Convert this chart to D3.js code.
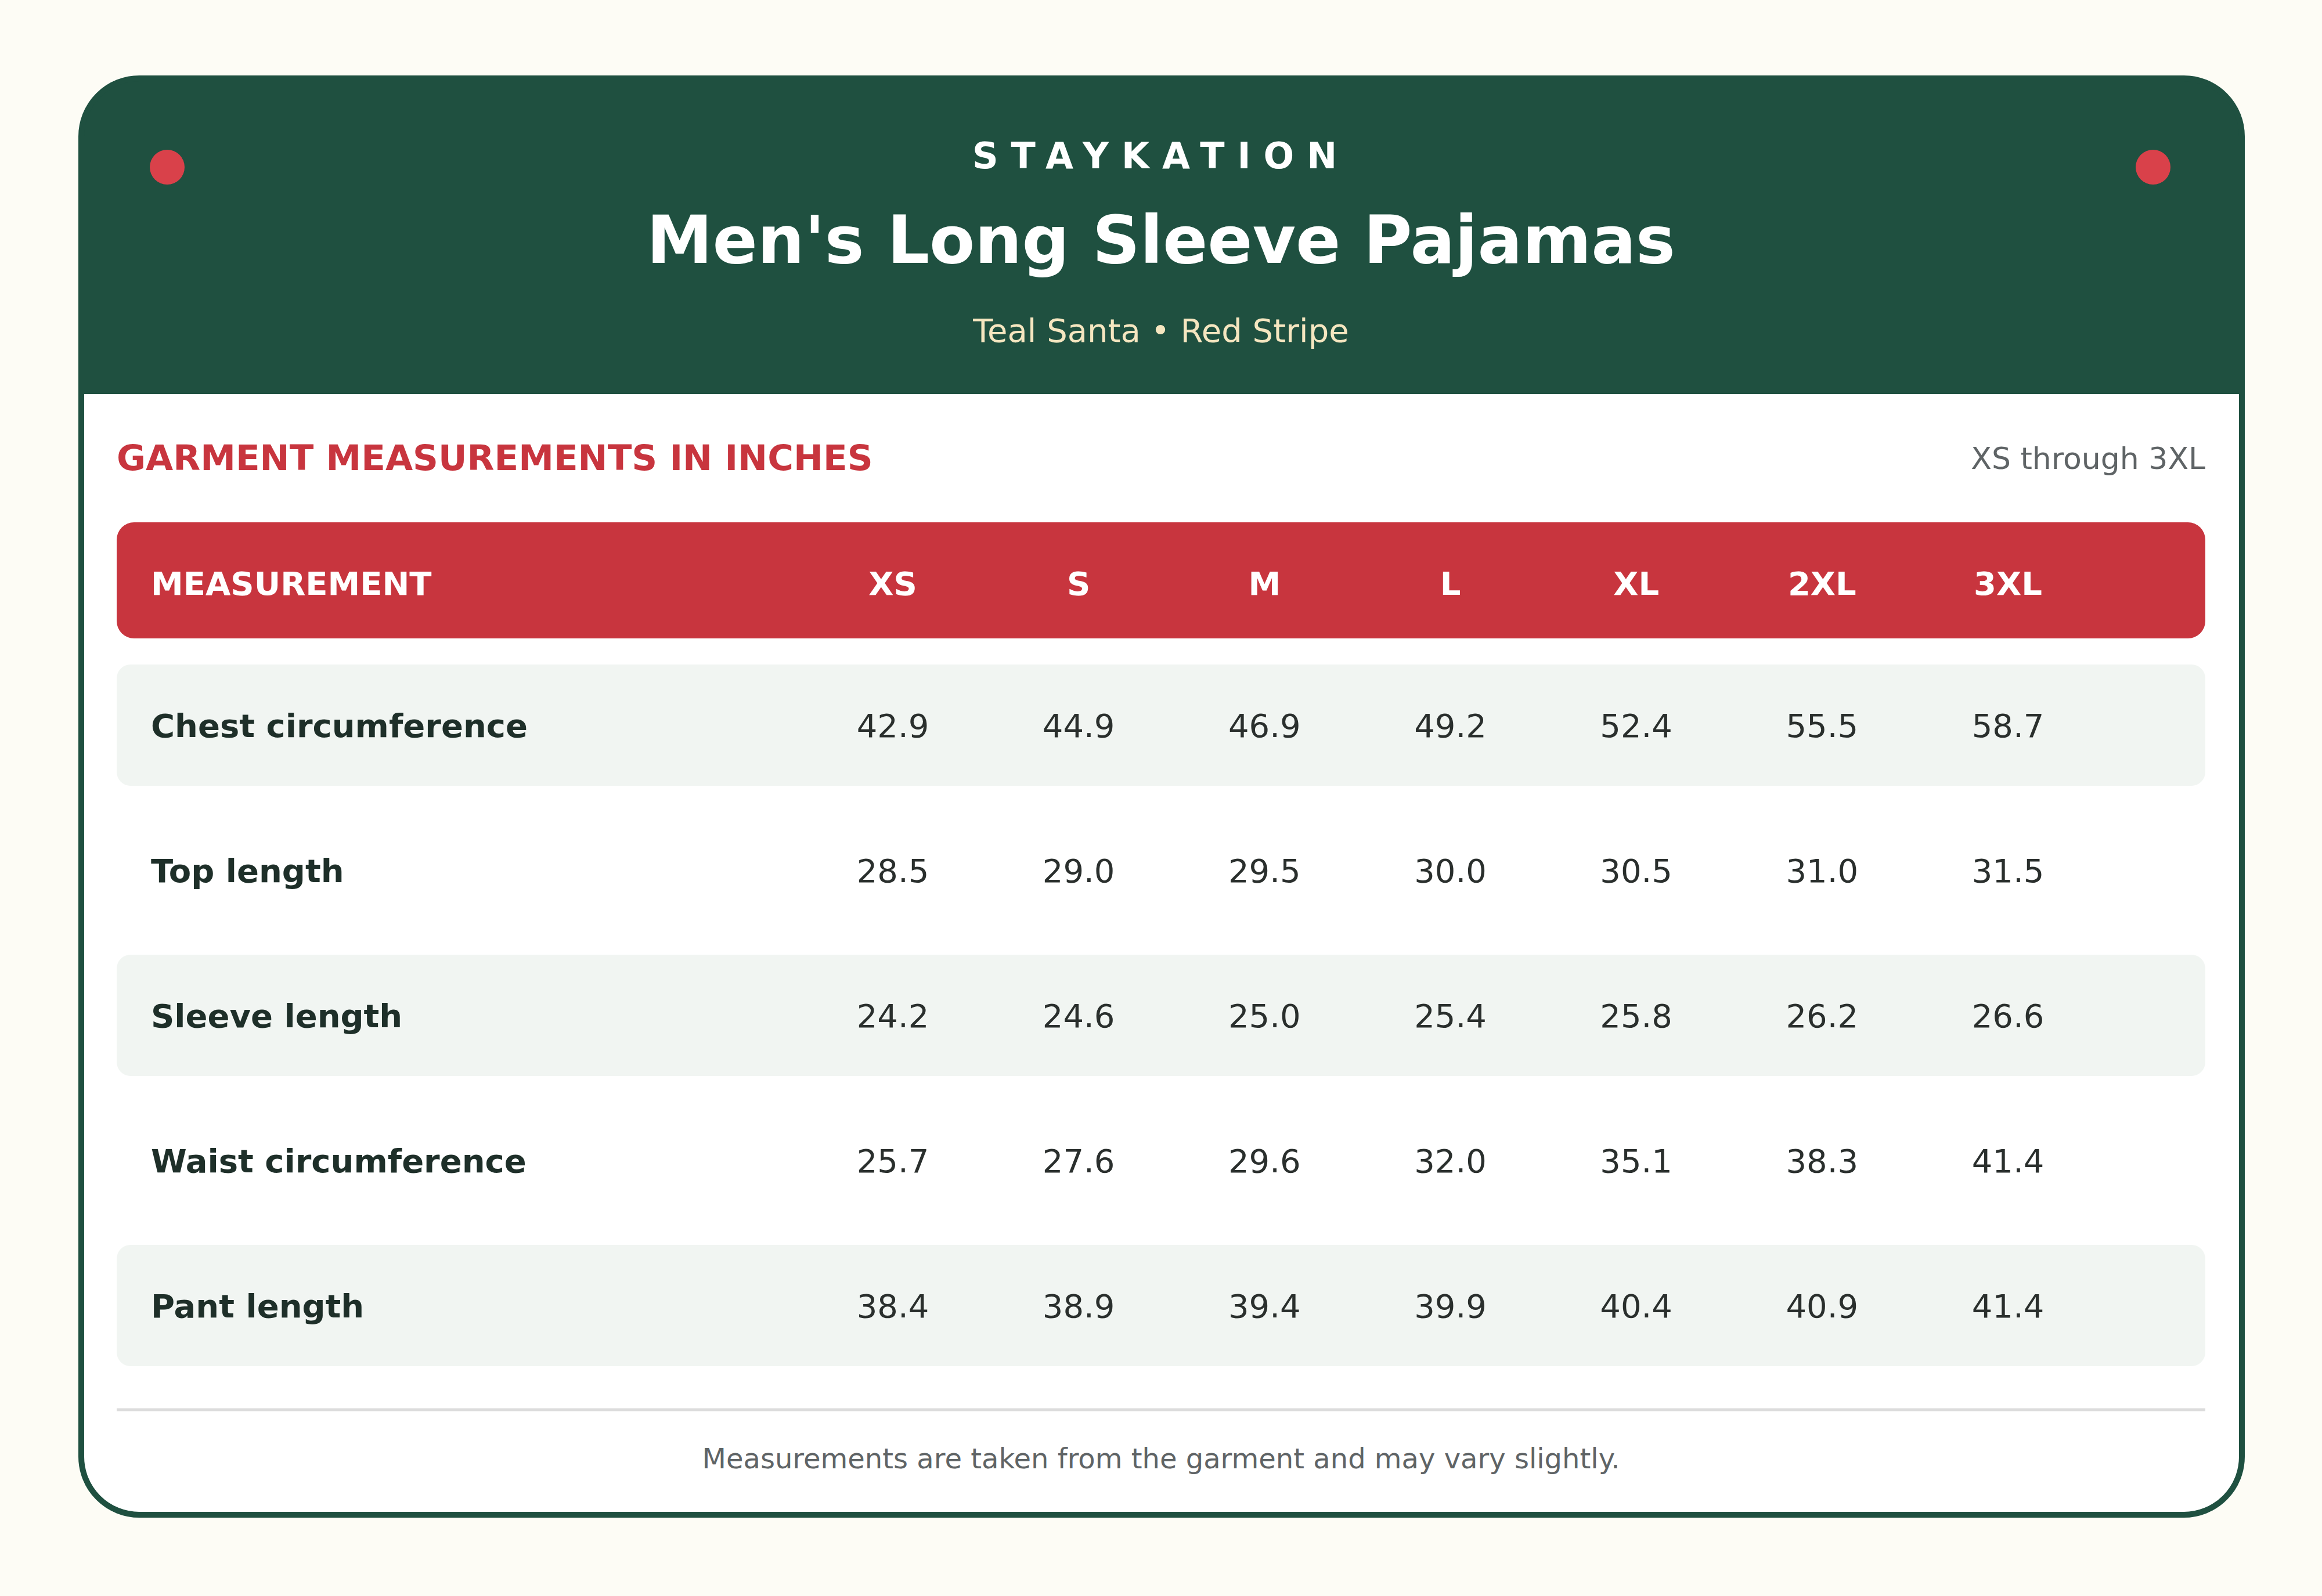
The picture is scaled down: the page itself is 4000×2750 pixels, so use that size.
<!DOCTYPE html>
<html><head><meta charset="utf-8">
<script src="https://cdn.jsdelivr.net/npm/d3@7"></script>
<style>body{margin:0;background:#fdfcf5}svg{display:block}text{font-family:"DejaVu Sans",sans-serif}</style>
</head><body>
<script>
const sizes = ["XS","S","M","L","XL","2XL","3XL"];
const measurements = ["Chest circumference","Top length","Sleeve length","Waist circumference","Pant length"];
const chest = [42.9,44.9,46.9,49.2,52.4,55.5,58.7];
const topLen = [28.5,29.0,29.5,30.0,30.5,31.0,31.5];
const sleeve = [24.2,24.6,25.0,25.4,25.8,26.2,26.6];
const waist = [25.7,27.6,29.6,32.0,35.1,38.3,41.4];
const pant = [38.4,38.9,39.4,39.9,40.4,40.9,41.4];
const values = [chest, topLen, sleeve, waist, pant];

const W=4000,H=2750;
const svg=d3.select("body").append("svg").attr("width",W).attr("height",H);
svg.append("rect").attr("width",W).attr("height",H).attr("fill","#fdfcf5");
const cx0=140,cy0=135,cw=3722,ch=2475,r=100;
svg.append("defs").append("clipPath").attr("id","card").append("rect")
  .attr("x",cx0).attr("y",cy0).attr("width",cw).attr("height",ch).attr("rx",r);
svg.append("rect").attr("x",cx0).attr("y",cy0).attr("width",cw).attr("height",ch).attr("rx",r).attr("fill","#fff");
svg.append("rect").attr("clip-path","url(#card)").attr("x",cx0).attr("y",cy0).attr("width",cw).attr("height",679-cy0).attr("fill","#1f5040");
svg.append("rect").attr("x",cx0).attr("y",cy0).attr("width",cw).attr("height",ch).attr("rx",r).attr("fill","none").attr("stroke","#1f5040").attr("stroke-width",10);
[288,3709].forEach(x=>svg.append("circle").attr("cx",x).attr("cy",288).attr("r",30).attr("fill","#d9414a"));
svg.append("text").attr("x",2000).attr("y",268).attr("text-anchor","middle").attr("dominant-baseline","central")
  .attr("fill","#fff").attr("font-weight","bold").attr("font-size",62).attr("letter-spacing",22).text("STAYKATION");
svg.append("text").attr("x",2000).attr("y",413).attr("text-anchor","middle").attr("dominant-baseline","central")
  .attr("fill","#fff").attr("font-weight","bold").attr("font-size",114).text("Men's Long Sleeve Pajamas");
svg.append("text").attr("x",2000).attr("y",569).attr("text-anchor","middle").attr("dominant-baseline","central")
  .attr("fill","#f5e6c0").attr("font-size",56).text("Teal Santa • Red Stripe");
svg.append("text").attr("x",201).attr("y",788).attr("dominant-baseline","central")
  .attr("fill","#c8353e").attr("font-weight","bold").attr("font-size",61).text("GARMENT MEASUREMENTS IN INCHES");
svg.append("text").attr("x",3799).attr("y",790).attr("text-anchor","end").attr("dominant-baseline","central")
  .attr("fill","#5f6466").attr("font-size",52).text("XS through 3XL");

const x=d3.scalePoint().domain(sizes).range([1538,3459]);
const y=d3.scalePoint().domain(measurements).range([1250,2250]);
svg.append("rect").attr("x",201).attr("y",900).attr("width",3598).attr("height",200).attr("rx",30).attr("fill","#c8353e");
svg.append("text").attr("x",260).attr("y",1005).attr("dominant-baseline","central").attr("fill","#fff")
  .attr("font-weight","bold").attr("font-size",56).text("MEASUREMENT");
svg.selectAll(".hd").data(sizes).join("text").attr("x",d=>x(d)).attr("y",1005).attr("text-anchor","middle")
  .attr("dominant-baseline","central").attr("fill","#fff").attr("font-weight","bold").attr("font-size",56).text(d=>d);
measurements.forEach((m,i)=>{
  const yc=y(m);
  if(i%2===0) svg.append("rect").attr("x",201).attr("y",yc-105).attr("width",3598).attr("height",209).attr("rx",24).attr("fill","#f1f5f2");
  svg.append("text").attr("x",260).attr("y",yc).attr("dominant-baseline","central").attr("fill","#1e2f29")
    .attr("font-weight","bold").attr("font-size",56).text(m);
  svg.selectAll(null).data(values[i]).join("text").attr("x",(d,j)=>x(sizes[j])).attr("y",yc).attr("text-anchor","middle")
    .attr("dominant-baseline","central").attr("fill","#2a2f2d").attr("font-size",56).text(d=>d.toFixed(1));
});
svg.append("line").attr("x1",201).attr("x2",3799).attr("y1",2429).attr("y2",2429).attr("stroke","#dcdcdc").attr("stroke-width",5);
svg.append("text").attr("x",2000).attr("y",2513).attr("text-anchor","middle").attr("dominant-baseline","central")
  .attr("fill","#5f6466").attr("font-size",48).text("Measurements are taken from the garment and may vary slightly.");
</script>
</body></html>
